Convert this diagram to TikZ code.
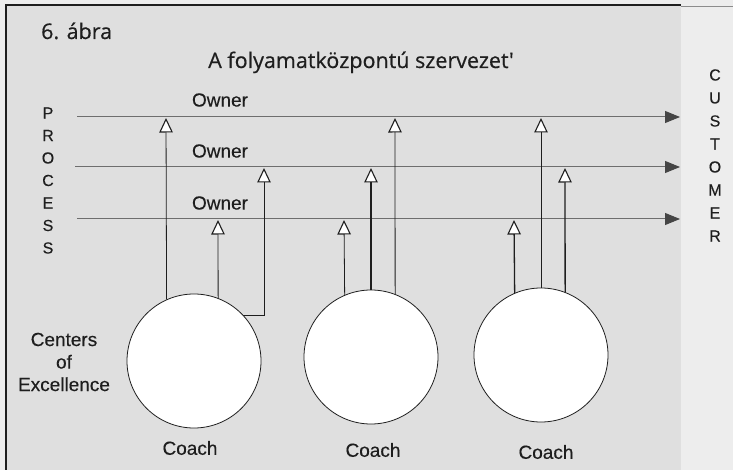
\documentclass[tikz,border=0pt]{standalone}
\usepackage{fontspec}
\setmainfont{Liberation Sans}[UprightFeatures={FakeBold=0.35}]
\newfontfamily\titlefont{Open Sans}[UprightFeatures={FakeBold=0.5}]
\usetikzlibrary{arrows.meta}
\definecolor{panel}{HTML}{DFDFDF}
\definecolor{strip}{HTML}{EDEDED}
\definecolor{ink}{HTML}{1E1E1E}
\definecolor{flowline}{HTML}{6E6E6E}
\definecolor{tipfill}{HTML}{454545}
\begin{document}
\begin{tikzpicture}[x=1pt,y=-1pt,
  coe/.style={circle,draw=ink,line width=0.8pt,fill=white,minimum size=134pt,inner sep=0pt},
  flow/.style={draw=flowline,line width=1pt,-{Triangle[length=15pt,width=12pt,color=tipfill,fill=tipfill]}},
  support/.style={draw=ink,line width=0.8pt,-{Triangle[length=14.5pt,width=13.5pt,color=ink,fill=white,line width=1.1pt]}},
  supportbold/.style={support,line width=1.3pt},
  lbl/.style={font=\fontsize{19}{22.5}\selectfont,text=ink,inner sep=0pt},
  letter/.style={font=\fontsize{16}{18}\selectfont,text=ink,inner sep=0pt},
  ttl/.style={font=\titlefont\fontsize{21.5}{24}\selectfont,text=ink,inner sep=0pt}
]
\useasboundingbox (0,0) rectangle (733,470);
% background
\fill[strip] (0,0) rectangle (733,470);
\fill[panel] (6,5) rectangle (681,470);
\draw[ink,line width=1.4pt] (6,470) -- (6,5) -- (681,5);
\draw[black!45,line width=0.8pt] (681,6) -- (733,6);

% titles
\node[ttl,anchor=base west] (fig) at (41,39) {6. ábra};
\node[ttl,anchor=base] (title) at (361,68) {A folyamatközpontú szervezet'};

% process flow lines
\coordinate (s1) at (77,117);  \coordinate (e1) at (680,117);
\coordinate (s2) at (75,167);  \coordinate (e2) at (680,167);
\coordinate (s3) at (77,219);  \coordinate (e3) at (680,219);
\draw[flow] (s1) -- (e1);
\draw[flow] (s2) -- (e2);
\draw[flow] (s3) -- (e3);

\node[lbl] (o1) at (220,100) {Owner};
\node[lbl] (o2) at (220,151) {Owner};
\node[lbl] (o3) at (220,203) {Owner};

% side letters
\foreach \ch [count=\i from 0] in {P,R,O,C,E,S,S}
  \node[letter] (p\i) at (48,113+22.5*\i) {\ch};
\foreach \ch [count=\i from 0] in {C,U,S,T,O,M,E,R}
  \node[letter] (c\i) at (715,75+23*\i) {\ch};

% centers of excellence
\node[coe] (k1) at (194,361) {};
\node[coe] (k2) at (371,357) {};
\node[coe] (k3) at (541,355) {};

\node[lbl,align=center] (coelbl) at (64,362) {Centers\\of\\Excellence};
\node[lbl] (coach1) at (190,448) {Coach};
\node[lbl] (coach2) at (373,450) {Coach};
\node[lbl] (coach3) at (546,452) {Coach};

% arrow tips on the process lines
\coordinate (t11) at (166,118);
\coordinate (t12) at (218,220);
\coordinate (t13) at (264,168);
\coordinate (t21) at (344,220);
\coordinate (t22) at (371,168);
\coordinate (t23) at (395,118);
\coordinate (t31) at (514,220);
\coordinate (t32) at (541,118);
\coordinate (t33) at (565,168);

\draw[support] (k1.114.7) -- (t11);
\draw[support] (k1.69) -- (t12);
\draw[support] (k1.43) -| (t13);
\draw[support] (k2.113.8) -- (t21);
\draw[supportbold] (k2.north) -- (t22);
\draw[support] (k2.69) -- (t23);
\draw[supportbold] (k3.113.8) -- (t31);
\draw[support] (k3.north) -- (t32);
\draw[supportbold] (k3.69) -- (t33);
\end{tikzpicture}
\end{document}
